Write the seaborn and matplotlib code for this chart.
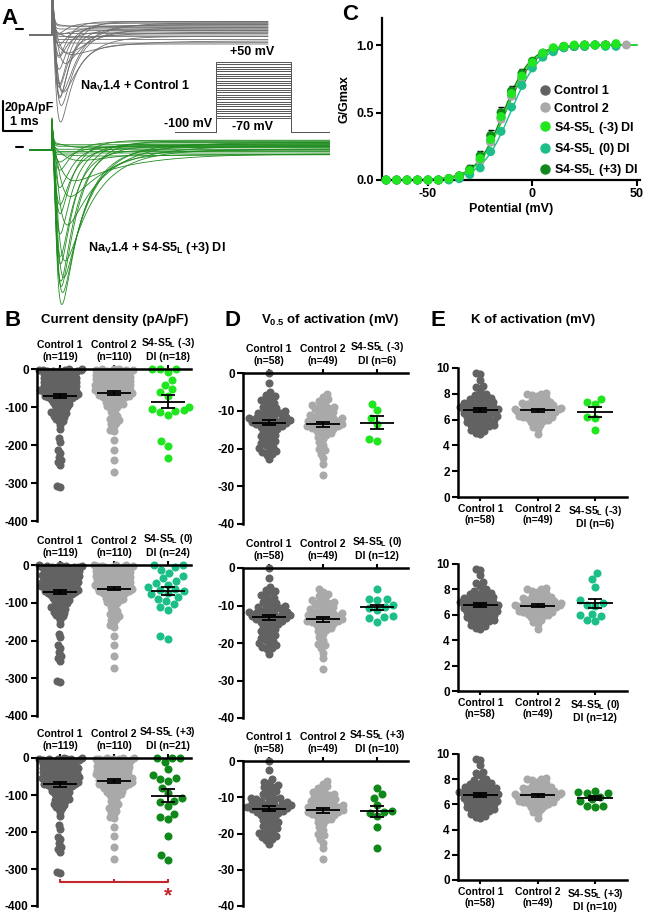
"""
Nav1.4 activation figure: traces (A), G/Gmax curves (C) and
dot plots of current density, V0.5 and k (B, D, E).
"""

import numpy as np
import pandas as pd
import matplotlib
matplotlib.use("Agg")
import matplotlib.pyplot as plt
import seaborn as sns
from matplotlib.lines import Line2D

W, H = 645, 915

# ── Panel A: voltage steps and peak currents (pA/pF) ─────────────────────────
STEPS_MV = [-70, -65, -60, -55, -50, -45, -40, -35, -30, -25, -20, -15, -10,
            -5, 0, 5, 10, 15, 20, 25, 30, 35, 40, 45, 50]
CTRL_PEAK = [0, 0, 0, 0, 0, -0.5, -1.5, -4, -9, -17, -27, -37, -45, -50, -52,
             -50, -46, -41, -35, -29, -23, -17, -12, -7, -3]
P3_PEAK = [0, 0, 0, 0, 0, -1, -3, -8, -18, -34, -55, -74, -89, -97, -100,
           -97, -90, -81, -71, -60, -49, -38, -28, -19, -10]
CTRL_SS = [1, -3, 4, -1, 6, -5, 7, 2, -4, 5, 8, -1, 7, 3, -6, 9, 4, 8, 0, 6,
           9, 2, 5, 8, 3]
P3_SS = [0.5, -2, 2.5, -1, 3.5, -3, 4.5, 1, -2.5, 3, 5, 0, 4, 2, -3, 6, 2.5,
         5, 0, 4, 6.5, 1.5, 3, 5.5, 2]
HOLD_MV = -100

# ── Panel C: G/Gmax ───────────────────────────────────────────────────────────
VOLTS = [-70, -65, -60, -55, -50, -45, -40, -35, -30, -25, -20, -15, -10, -5,
         0, 5, 10, 15, 20, 25, 30, 35, 40]
VOLTS_C2 = VOLTS + [45]
GG_C1 = [0, 0, 0, 0, 0, 0, 0.01, 0.03, 0.07, 0.15, 0.29, 0.46, 0.63, 0.76,
         0.87, 0.93, 0.96, 0.98, 0.99, 0.99, 1.0, 1.0, 1.0]
GG_C2 = [0, 0, 0, 0, 0, 0, 0.01, 0.02, 0.06, 0.14, 0.28, 0.45, 0.62, 0.76,
         0.86, 0.93, 0.96, 0.98, 0.99, 1.0, 1.0, 1.0, 1.0, 1.0]
GG_M3 = [0, 0, 0, 0, 0, 0, 0.01, 0.03, 0.07, 0.16, 0.30, 0.47, 0.64, 0.77,
         0.87, 0.94, 0.98, 0.99, 1.0, 1.0, 1.0, 1.0, 1.01]
GG_Z0 = [0, 0, 0, 0, 0, 0, 0, 0.01, 0.04, 0.09, 0.21, 0.36, 0.54, 0.70,
         0.83, 0.91, 0.95, 0.98, 0.99, 0.99, 1.0, 0.99, 0.99]
GG_P3 = [0, 0, 0, 0, 0, 0, 0.01, 0.03, 0.08, 0.18, 0.33, 0.50, 0.66, 0.79,
         0.88, 0.94, 0.97, 0.99, 0.99, 1.0, 1.0, 1.0, 1.0]
SEM_C1 = [0, 0, 0, 0, 0, 0, 0.005, 0.01, 0.015, 0.02, 0.025, 0.025, 0.025,
          0.02, 0.02, 0.015, 0.01, 0.01, 0.005, 0.005, 0.005, 0.005, 0.005]
SEM_P3 = [0, 0, 0, 0, 0, 0, 0.01, 0.02, 0.03, 0.035, 0.04, 0.04, 0.035, 0.03,
          0.025, 0.02, 0.01, 0.01, 0.01, 0.005, 0.005, 0.005, 0.005]
FIT_VHALF = {"c1": -12.9, "c2": -13.4, "m3": -13.1, "z0": -10.5, "p3": -13.9}
FIT_K = {"c1": 6.9, "c2": 6.7, "m3": 6.6, "z0": 6.9, "p3": 6.5}

# ── Panel B: current density (pA/pF) ─────────────────────────────────────────
CD_C1 = [-1, -2, -4, -3, -6, -5, -8, -2, -10, -7, -12,
         -14, -11, -16, -9, -18, -13, -20, -15, -22, -17, -24,
         -26, -19, -28, -23, -30, -21, -32, -27, -34, -25, -36,
         -38, -29, -40, -33, -42, -31, -44, -35, -46, -37, -48,
         -50, -39, -52, -43, -54, -41, -56, -45, -58, -47, -60,
         -62, -49, -64, -53, -66, -51, -68, -55, -70, -57, -72,
         -74, -59, -76, -63, -78, -61, -80, -65, -84, -67, -88,
         -92, -69, -96, -73, -100, -71, -104, -77, -108, -79, -112,
         -116, -82, -120, -86, -124, -90, -128, -94, -132, -98, -136,
         0, -3, -5, -106, -114, -118, -126, -138,
         -147, -157, -182, -191, -213, -220, -231, -246, -253, -240, -307, -311]
CD_C2 = [0, -2, -1, -5, -3, -7, -4, -9, -6, -11, -8,
         -13, -10, -15, -12, -17, -14, -19, -16, -21, -18, -23,
         -25, -20, -27, -22, -29, -24, -31, -26, -33, -28, -35,
         -37, -30, -39, -32, -41, -34, -43, -36, -45, -38, -47,
         -49, -40, -51, -44, -53, -42, -55, -46, -57, -48, -59,
         -61, -50, -63, -54, -65, -52, -67, -56, -69, -58, -71,
         -73, -60, -75, -64, -77, -62, -81, -66, -85, -70, -89,
         -93, -68, -97, -74, -101, -72, -105, -78, -110, -80, -115,
         -119, -83, -123, -88, -127, -91, -131, -95, -135, -99, -137,
         0, -3,
         -142, -145, -150, -160, -163, -187, -212, -240, -272]
CD_M3 = [0, 0, 0, -8, -30, -42, -52, -60, -70, -100, -105, -108, -110, -112,
         -120, -189, -203, -234]
CD_Z0 = [0, 0, -5, -12, -20, -28, -35, -42, -48, -52, -58, -63, -66, -70,
         -75, -78, -85, -90, -96, -104, -112, -118, -188, -195]
CD_P3 = [0, 0, 0, -10, -30, -45, -55, -58, -62, -80, -95, -108, -115, -120,
         -130, -150, -160, -165, -210, -262, -276]

# ── Panel D: V0.5 of activation (mV) ─────────────────────────────────────────
V_C1 = [0.0, -2.6, -5.1, -5.8, -6.2, -6.5, -7.1, -7.3, -8.0, -8.4, -9.0, -9.3,
        -9.7, -10.1, -10.2, -10.6, -10.9, -11.0, -11.4, -11.8, -12.0, -12.3,
        -12.5, -12.9, -13.1, -13.4, -13.6, -13.9, -14.3, -14.4, -14.8, -15.2,
        -15.5, -15.9, -16.3, -16.8, -17.0, -17.4, -17.9, -18.3, -18.6, -19.2,
        -19.5, -19.9, -20.3, -20.6, -21.0, -21.4, -21.7, -22.9, -12.2, -13.0,
        -11.6, -14.0, -10.5, -12.7, -13.3, -11.9]
V_C2 = [-5.6, -6.4, -7.0, -7.5, -8.1, -8.6, -9.0, -9.4, -9.9, -10.3, -10.6,
        -11.0, -11.3, -11.6, -11.9, -12.2, -12.4, -12.7, -12.9, -13.1, -13.3,
        -13.6, -13.8, -14.0, -14.3, -14.5, -14.8, -15.0, -15.3, -15.7, -16.0,
        -16.4, -16.9, -17.5, -18.3, -19.1, -20.2, -20.5, -21.4, -22.6, -24.0,
        -26.9, -9.6, -10.8, -12.0, -12.6, -13.5, -14.1, -8.8]
V_M3 = [-8.1, -9.7, -12.0, -13.5, -17.4, -18.1]
V_Z0 = [-5.5, -8.3, -8.5, -8.2, -9.8, -10.3, -10.6, -11.2, -12.8, -13.1,
        -13.4, -14.3]
V_P3 = [-7.5, -9.2, -10.1, -12.2, -13.8, -14.0, -14.3, -15.3, -18.2, -24.1]

# ── Panel E: k of activation (mV) ────────────────────────────────────────────
K_C1 = [9.6, 9.5, 9.1, 8.6, 8.5, 8.3, 8.0, 7.9, 7.8, 7.7, 7.6, 7.6, 7.5, 7.4,
        7.3, 7.3, 7.2, 7.1, 7.1, 7.0, 7.0, 6.9, 6.9, 6.8, 6.8, 6.7, 6.7, 6.6,
        6.6, 6.5, 6.5, 6.4, 6.4, 6.3, 6.3, 6.2, 6.2, 6.1, 6.0, 6.0, 5.9, 5.8,
        5.8, 5.7, 5.6, 5.5, 5.5, 5.4, 5.3, 5.2, 5.1, 5.0, 4.9, 7.4, 6.9, 7.2,
        6.0, 5.6]
K_C2 = [8.1, 8.0, 7.9, 7.8, 7.7, 7.6, 7.5, 7.4, 7.3, 7.3, 7.2, 7.1, 7.1, 7.0,
        7.0, 6.9, 6.9, 6.8, 6.8, 6.7, 6.7, 6.7, 6.6, 6.6, 6.5, 6.5, 6.4, 6.4,
        6.3, 6.3, 6.2, 6.2, 6.1, 6.1, 6.0, 6.0, 5.9, 5.8, 5.7, 5.6, 5.4, 5.3,
        4.9, 7.2, 6.8, 6.6, 6.9, 7.4, 8.0]
K_M3 = [7.6, 7.4, 7.2, 6.2, 6.1, 5.2]
K_Z0 = [9.3, 8.8, 8.2, 7.2, 6.9, 6.8, 6.7, 6.0, 6.1, 5.9, 5.5, 5.6]
K_P3 = [7.1, 7.0, 6.9, 6.9, 6.6, 6.4, 6.3, 5.9, 5.8, 5.9]

N_CD = {"c1": 119, "c2": 110, "m3": 18, "z0": 24, "p3": 21}
N_FIT = {"c1": 58, "c2": 49, "m3": 6, "z0": 12, "p3": 10}
TAG = {"m3": "-3", "z0": "0", "p3": "+3"}

COLORS = {"c1": "#626262", "c2": "#a9a9a9", "m3": "#1fe61f",
          "z0": "#1cbf87", "p3": "#10891a"}
GREY_TRACE = "#6f6f6f"
GREEN_TRACE = "#1f8c1f"
RED = "#c1272d"

# ── Style ─────────────────────────────────────────────────────────────────────
sns.set_style("ticks")
plt.rcParams.update({
    "font.family": ["Liberation Sans", "DejaVu Sans"],
    "font.weight": "bold",
    "axes.unicode_minus": False,
    "mathtext.fontset": "custom",
    "mathtext.rm": "Liberation Sans:bold",
    "mathtext.it": "Liberation Sans:bold",
    "mathtext.bf": "Liberation Sans:bold",
    "mathtext.default": "rm",
    "axes.edgecolor": "black",
    "axes.labelcolor": "black",
    "text.color": "black",
    "xtick.color": "black",
    "ytick.color": "black",
    "axes.facecolor": "none",
})

fig = plt.figure(figsize=(W / 100, H / 100), dpi=100)


def px_axes(x0, y0, x1, y1):
    return fig.add_axes([x0 / W, 1 - y1 / H, (x1 - x0) / W, (y1 - y0) / H])


def px_text(x, y, s, **kw):
    kw.setdefault("fontsize", 9)
    fig.text(x / W, 1 - y / H, s, **kw)


def na_shape(t, v, slow=1.0):
    """Normalised m^3 h time course used to draw the example sweeps."""
    tm = 0.10 + 0.30 * np.exp(-(v + 40) / 14)
    th = slow * (0.30 + 1.8 * np.exp(-(v + 40) / 16))
    tp = np.clip(t, 0, None)
    s = (1 - np.exp(-tp / tm)) ** 3 * np.exp(-tp / th)
    return s / s.max()


def cap_spike(t, amp):
    return amp * np.exp(-np.clip(t, 0, None) / 0.04) * (t >= 0)


# ── A: current sweeps ─────────────────────────────────────────────────────────
T0_PX, PX_MS, PX_PA = 52, 29.0, 1.5
axA = px_axes(0, 0, 330, 310)
axA.set_xlim(-T0_PX / PX_MS, (330 - T0_PX) / PX_MS)
axA.set_ylim(-310 / PX_PA, 0)
axA.axis("off")

t = np.arange(-0.76, 9.59, 0.004)
ctrl_base, p3_base = -35 / PX_PA, -150 / PX_PA
keep = t <= 7.45
for v, pk, ss in zip(STEPS_MV, CTRL_PEAK, CTRL_SS):
    y = ctrl_base + pk * na_shape(t, v) + ss * (t > 0) + cap_spike(t, 40)
    axA.plot(t[keep], y[keep], color=GREY_TRACE, lw=0.6)
for v, pk, ss in zip(STEPS_MV, P3_PEAK, P3_SS):
    y = p3_base + pk * na_shape(t, v, slow=1.5) + ss * (t > 0) + cap_spike(t, 15)
    axA.plot(t, y, color=GREEN_TRACE, lw=0.6)

# zero-current marks and scale bar
for ypx in (29, 147):
    axA.plot([(16 - T0_PX) / PX_MS, (23 - T0_PX) / PX_MS], [-ypx / PX_PA] * 2, color="k", lw=1.5)
sx = (3 - T0_PX) / PX_MS
sy = -131 / PX_PA
axA.plot([sx, sx, sx + 1], [sy + 20, sy, sy], color="k", lw=1.5)
px_text(5, 108, "20pA/pF", va="center", ha="left")
px_text(10, 122, "1 ms", va="center", ha="left")
px_text(80, 86, "Na$_V$1.4 + Control 1", va="center", ha="left")
px_text(88, 248, "Na$_V$1.4 + S4-S5$_L$ (+3) DI", va="center", ha="left")

# voltage protocol
axP = px_axes(175, 55, 330, 140)
axP.set_xlim(0, 5.34)
axP.set_ylim(-117, 65)
axP.axis("off")
for v in STEPS_MV:
    axP.plot([0, 1.4, 1.4, 4.0, 4.0, 5.34], [HOLD_MV, HOLD_MV, v, v, HOLD_MV, HOLD_MV],
             color="#555555", lw=0.7)
px_text(252, 52, "+50 mV", ha="center", va="center")
px_text(212, 124, "-100 mV", ha="right", va="center")
px_text(253, 127, "-70 mV", ha="center", va="center")

# ── C: G/Gmax ─────────────────────────────────────────────────────────────────
axC = px_axes(382, 18, 640, 180)
gg = {"c1": (VOLTS, GG_C1), "c2": (VOLTS_C2, GG_C2), "p3": (VOLTS, GG_P3),
      "z0": (VOLTS, GG_Z0), "m3": (VOLTS, GG_M3)}
dfC = pd.concat([pd.DataFrame({"mV": vv, "g": gv, "grp": k}) for k, (vv, gv) in gg.items()],
                ignore_index=True)
vfit = np.linspace(-72, 50, 300)
for k in ["c1", "c2", "p3", "z0", "m3"]:
    axC.plot(vfit, 1 / (1 + np.exp((FIT_VHALF[k] - vfit) / FIT_K[k])),
             color=COLORS[k], lw=1.0, zorder=2)
axC.errorbar(VOLTS, GG_P3, yerr=SEM_P3, fmt="none", ecolor="k", elinewidth=1,
             capsize=2.5, capthick=1, zorder=3, clip_on=False)
axC.errorbar(VOLTS, GG_C1, yerr=SEM_C1, fmt="none", ecolor="k", elinewidth=1,
             capsize=2.5, capthick=1, zorder=3, clip_on=False)
sns.scatterplot(data=dfC, x="mV", y="g", hue="grp", palette=COLORS, s=42,
                linewidth=0, legend=False, ax=axC, zorder=4, clip_on=False)
axC.set_xlim(-72, 51.5)
axC.set_ylim(0, 1.2)
axC.set_xticks([-50, 0, 50])
axC.set_yticks([0, 0.5, 1.0])
axC.set_yticklabels(["0.0", "0.5", "1.0"])
axC.tick_params(labelsize=9, width=1.5, length=4, pad=2)
axC.set_xlabel("Potential (mV)", fontsize=9, fontweight="bold", labelpad=2)
axC.set_ylabel("G/Gmax", fontsize=9, fontweight="bold", labelpad=4)
for s in ("left", "bottom"):
    axC.spines[s].set_linewidth(1.6)
sns.despine(ax=axC)
legend_names = {"c1": "Control 1", "c2": "Control 2", "m3": "S4-S5$_L$ (-3) DI",
                "z0": "S4-S5$_L$ (0) DI", "p3": "S4-S5$_L$ (+3) DI"}
handles = [Line2D([], [], marker="o", ls="", color=COLORS[k], markersize=6.5)
           for k in legend_names]
axC.legend(handles, list(legend_names.values()), loc="upper left",
           bbox_to_anchor=(0.59, 0.615), frameon=False, fontsize=9,
           handletextpad=0.15, labelspacing=0.42, borderaxespad=0,
           handlelength=1.0)

# ── B, D, E: dot plots ────────────────────────────────────────────────────────
GROW = []
DOT = 5.8


def dot_column(ax, cats, values, calc_sizes):
    df = pd.DataFrame({"grp": np.repeat(cats, [len(v) for v in values]),
                       "val": np.concatenate(values)})
    for cat, calc in zip(cats, calc_sizes):
        n0 = len(ax.collections)
        sns.swarmplot(data=df[df.grp == cat], x="grp", y="val", order=cats,
                      color=COLORS[cat], size=calc, linewidth=0, clip_on=False,
                      ax=ax, zorder=2)
        GROW.extend(ax.collections[n0:])
    for i, v in enumerate(values):
        v = np.asarray(v, dtype=float)
        m, se = v.mean(), v.std(ddof=1) / np.sqrt(len(v))
        ax.hlines(m, i - 0.31, i + 0.31, color="k", lw=1.3, zorder=5)
        ax.errorbar(i, m, yerr=se, fmt="none", ecolor="k", elinewidth=1.3,
                    capsize=5, capthick=1.3, zorder=5)
    ax.set(xlabel="", ylabel="")


def headers(nmap, mut):
    return [f"Control 1\n(n={nmap['c1']})", f"Control 2\n(n={nmap['c2']})",
            f"S4-S5$_L$ ({TAG[mut]})\nDI (n={nmap[mut]})"]


B_X, B_ROWS = (37, 191), [(369, 521), (565, 716), (758, 906)]
D_X, D_ROWS = (243, 408), [(373, 524), (568, 718), (761, 906)]
E_X, E_ROWS = (458, 627), [(368, 497), (564, 691), (754, 880)]
CD = {"c1": CD_C1, "c2": CD_C2, "m3": CD_M3, "z0": CD_Z0, "p3": CD_P3}
VH = {"c1": V_C1, "c2": V_C2, "m3": V_M3, "z0": V_Z0, "p3": V_P3}
KK = {"c1": K_C1, "c2": K_C2, "m3": K_M3, "z0": K_Z0, "p3": K_P3}

for row, mut in enumerate(["m3", "z0", "p3"]):
    cats = ["c1", "c2", mut]

    # B
    ax = px_axes(B_X[0], B_ROWS[row][0], B_X[1], B_ROWS[row][1])
    dot_column(ax, cats, [CD[c] for c in cats], [2.6, 2.6, DOT])
    ax.set_xlim(-0.43, 2.43)
    ax.set_ylim(-400, 0)
    ax.set_yticks([0, -100, -200, -300, -400])
    ax.xaxis.tick_top()
    ax.set_xticks([0, 1, 2])
    ax.set_xticklabels(headers(N_CD, mut), fontsize=7.5, linespacing=1.25)
    if mut == "p3":
        ax.plot([0, 2], [-336, -336], color=RED, lw=1.5, clip_on=False)
        ax.vlines([0, 1, 2], -336, -327, color=RED, lw=1.5, clip_on=False)
        ax.text(2, -347, "*", color=RED, fontsize=15, ha="center", va="top")

    # D
    axd = px_axes(D_X[0], D_ROWS[row][0], D_X[1], D_ROWS[row][1])
    dot_column(axd, cats, [VH[c] for c in cats], [3.6, 3.6, DOT])
    axd.set_xlim(-0.48, 2.57)
    axd.set_ylim(-40, 0)
    axd.set_yticks([0, -10, -20, -30, -40])
    axd.xaxis.tick_top()
    axd.set_xticks([0, 1, 2])
    axd.set_xticklabels(headers(N_FIT, mut), fontsize=7.5, linespacing=1.25)

    # E
    axe = px_axes(E_X[0], E_ROWS[row][0], E_X[1], E_ROWS[row][1])
    dot_column(axe, cats, [KK[c] for c in cats], [3.4, 3.4, DOT])
    axe.set_xlim(-0.39, 2.56)
    axe.set_ylim(0, 10)
    axe.set_yticks([0, 2, 4, 6, 8, 10])
    axe.set_xticks([0, 1, 2])
    axe.set_xticklabels(headers(N_FIT, mut), fontsize=7.5, linespacing=1.15)

    for a, sides in ((ax, ("left", "top")), (axd, ("left", "top")), (axe, ("left", "bottom"))):
        for s in ("left", "right", "top", "bottom"):
            a.spines[s].set_visible(s in sides)
            a.spines[s].set_linewidth(1.8)
        a.tick_params(axis="y", labelsize=8.5, width=1.5, length=4, pad=2)
        a.tick_params(axis="x", width=1.5, length=3, pad=2)

# panel letters and titles
for x, y, s in ((10, 18, "A"), (350, 14, "C"), (13, 320, "B"), (233, 320, "D"), (438, 320, "E")):
    px_text(x, y, s, fontsize=16, ha="center", va="center")
px_text(115, 320, "Current density (pA/pF)", ha="center", va="center", fontsize=9.5)
px_text(330, 320, "V$_{0.5}$ of activation (mV)", ha="center", va="center", fontsize=9.5)
px_text(533, 320, "K of activation (mV)", ha="center", va="center", fontsize=9.5)

# lay out the swarms with small markers, then draw them at full size
fig.canvas.draw()
for coll in GROW:
    coll.__dict__.pop("draw", None)
    coll.set_sizes([DOT ** 2])

fig.savefig("out.png", dpi=100)
